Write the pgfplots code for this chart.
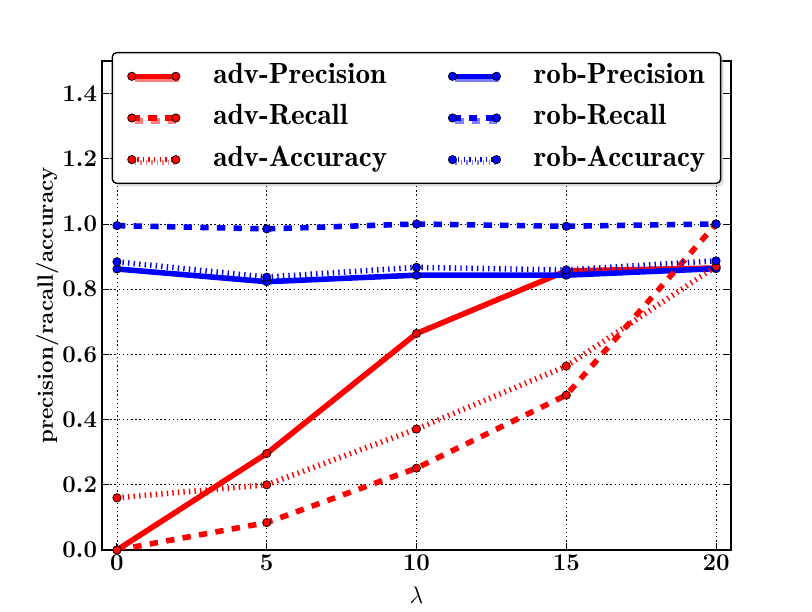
\documentclass[border=0pt]{standalone}
\usepackage{pgfplots}
\pgfplotsset{compat=1.18}
\usetikzlibrary{shadows}

\pgfplotstableread{
x  advP   advR   advA   robP   robR   robA
0  0.000  0.000  0.160  0.862  0.995  0.884
5  0.296  0.084  0.200  0.823  0.985  0.837
10 0.664  0.251  0.371  0.843  1.000  0.867
15 0.856  0.475  0.564  0.843  0.993  0.859
20 0.865  1.000  0.870  0.863  1.000  0.887
}\datatable

\begin{document}
\begin{tikzpicture}
\useasboundingbox (0,0) rectangle (584.64pt,440.64pt);
\begin{axis}[
  at={(73.44pt,44.64pt)}, anchor=south west,
  scale only axis, width=452.88pt, height=352.08pt,
  xmin=-0.5, xmax=20.5, ymin=0, ymax=1.5,
  xtick={0,5,10,15,20},
  ytick={0,0.2,0.4,0.6,0.8,1.0,1.2,1.4},
  tick align=inside,
  major tick length=5pt,
  axis line style={line width=1pt},
  every tick/.style={black, line width=0.7pt},
  grid=major,
  major grid style={black, line width=0.6pt, dash pattern=on 1pt off 2pt},
  tick label style={font=\fontsize{16}{19}\selectfont\bfseries\boldmath},
  yticklabel style={/pgf/number format/.cd, fixed, fixed zerofill, precision=1},
  xlabel={$\lambda$},
  xlabel style={font=\fontsize{17}{20}\selectfont, at={(axis description cs:0.5,-0.092)}, anchor=center},
  ylabel={precision/racall/accuracy},
  ylabel style={font=\fontsize{16}{19}\selectfont\bfseries, at={(axis description cs:-0.087,0.5)}, anchor=center},
  legend columns=2,
  legend cell align=left,
  legend image code/.code={%
    \draw[#1] plot coordinates {(0pt,0pt) (31.7pt,0pt)};},
  legend style={
    at={(axis description cs:0.5,1.0184)}, anchor=north,
    draw=black, line width=1pt, fill=white, rounded corners=3pt,
    drop shadow={shadow xshift=2pt, shadow yshift=-2pt, fill=gray!60},
    inner xsep=11pt, inner ysep=7pt,
    font=\fontsize{21}{25}\fontseries{b}\selectfont,
    nodes={inner sep=0pt, text height=15pt, text depth=5pt},
    row sep=10pt,
    /tikz/every odd column/.append style={column sep=24pt},
    /tikz/every even column/.append style={column sep=44pt},
  },
  every axis plot/.append style={line width=4pt, line cap=butt,
     mark=*, mark size=3pt},
]
\addplot[red, solid, mark options={solid, fill=red, draw=black, line width=0.5pt}] table[x=x,y=advP] {\datatable};
\addlegendentry{adv-Precision}
\addplot[blue, solid, mark options={solid, fill=blue, draw=black, line width=0.5pt}] table[x=x,y=robP] {\datatable};
\addlegendentry{rob-Precision}
\addplot[red, dash pattern=on 6pt off 6pt, mark options={solid, fill=red, draw=black, line width=0.5pt}] table[x=x,y=advR] {\datatable};
\addlegendentry{adv-Recall}
\addplot[blue, dash pattern=on 6pt off 6pt, mark options={solid, fill=blue, draw=black, line width=0.5pt}] table[x=x,y=robR] {\datatable};
\addlegendentry{rob-Recall}
\addplot[red, dash pattern=on 1pt off 3pt, mark options={solid, fill=red, draw=black, line width=0.5pt}] table[x=x,y=advA] {\datatable};
\addlegendentry{adv-Accuracy}
\addplot[blue, dash pattern=on 1pt off 3pt, mark options={solid, fill=blue, draw=black, line width=0.5pt}] table[x=x,y=robA] {\datatable};
\addlegendentry{rob-Accuracy}
\end{axis}
\end{tikzpicture}
\end{document}
